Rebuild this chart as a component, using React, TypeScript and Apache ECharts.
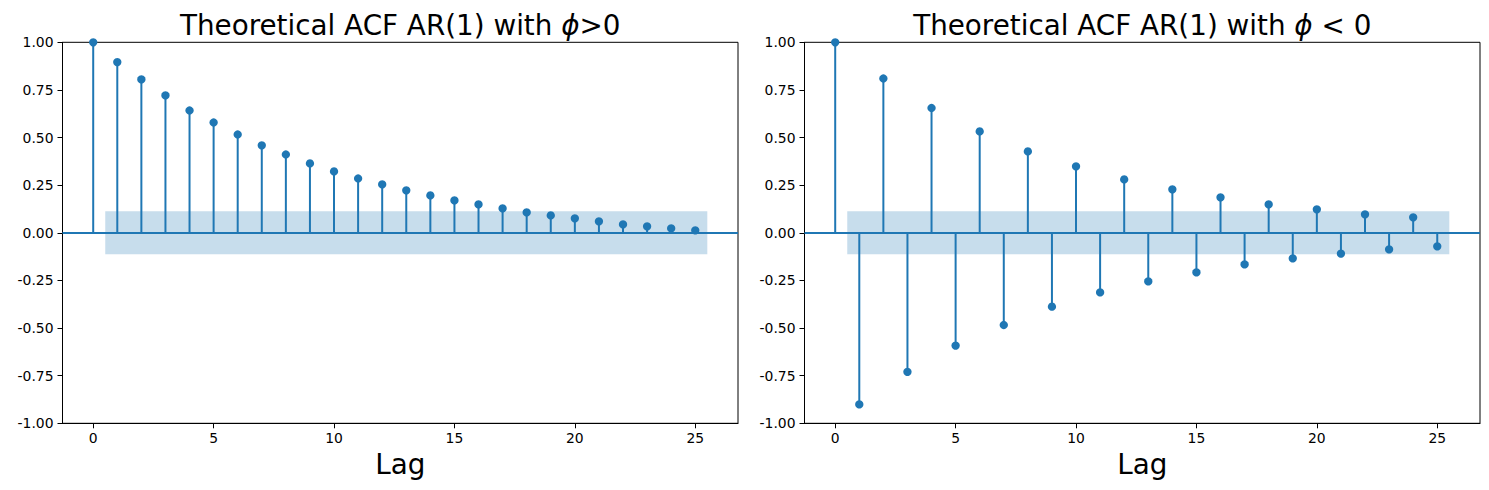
import React, { useEffect, useRef } from "react";
import * as echarts from "echarts";

const lags = [0, 1, 2, 3, 4, 5, 6, 7, 8, 9, 10, 11, 12, 13, 14, 15, 16, 17, 18, 19, 20, 21, 22, 23, 24, 25];
const acfPositive = [
  1.0, 0.896, 0.805, 0.721, 0.642, 0.579, 0.516, 0.459, 0.411, 0.364, 0.322, 0.285, 0.254,
  0.223, 0.196, 0.17, 0.149, 0.128, 0.107, 0.091, 0.076, 0.06, 0.044, 0.034, 0.023, 0.013,
];
const acfNegative = [
  1.0, -0.901, 0.81, -0.73, 0.655, -0.592, 0.532, -0.484, 0.427, -0.388, 0.349, -0.313, 0.28,
  -0.255, 0.228, -0.208, 0.186, -0.166, 0.149, -0.134, 0.123, -0.109, 0.097, -0.087, 0.081, -0.071,
];
const confBand = 0.113;
const bandStart = 0.5;
const bandEnd = 25.5;
const xTicks = [0, 5, 10, 15, 20, 25];
const titleParts = [
  ["Theoretical ACF AR(1) with ", "ϕ", ">0"],
  ["Theoretical ACF AR(1) with ", "ϕ", " < 0"],
];
const xLabel = "Lag";

const BLUE = "#1f77b4";
const FONT = "DejaVu Sans";

export default function App() {
  const ref = useRef<HTMLDivElement>(null);
  useEffect(() => {
    if (!ref.current) return;
    const chart = echarts.init(ref.current, null, { renderer: "svg" });
    const gridLefts = [62.5, 804.5];
    const gridW = 675.5;
    const datasets = [acfPositive, acfNegative];

    const grids = gridLefts.map((l) => ({
      left: l,
      top: 42.3,
      width: gridW,
      height: 381,
      show: true,
      borderColor: "#000",
      borderWidth: 1,
      backgroundColor: "transparent",
    }));

    const xAxes = gridLefts.map((_, i) => ({
      type: "value",
      gridIndex: i,
      min: -1.275,
      max: 26.775,
      splitLine: { show: false },
      axisLine: { show: true, onZero: false, lineStyle: { color: "#000", width: 1 } },
      axisTick: { show: true, customValues: xTicks, length: 5, lineStyle: { color: "#000", width: 1 } },
      axisLabel: {
        customValues: xTicks,
        margin: 8,
        fontSize: 13.9,
        fontFamily: FONT,
        color: "#000",
      },
      name: xLabel,
      nameLocation: "middle",
      nameGap: 27,
      nameTextStyle: { fontSize: 27.8, fontFamily: FONT, color: "#000" },
    }));

    const yAxes = gridLefts.map((_, i) => ({
      type: "value",
      gridIndex: i,
      min: -1,
      max: 1,
      interval: 0.25,
      splitLine: { show: false },
      axisLine: { show: true, onZero: false, lineStyle: { color: "#000", width: 1 } },
      axisTick: { show: true, length: 5, lineStyle: { color: "#000", width: 1 } },
      axisLabel: {
        margin: 9,
        fontSize: 13.9,
        fontFamily: FONT,
        color: "#000",
        formatter: (v: number) => v.toFixed(2),
      },
    }));

    const series: any[] = [];
    datasets.forEach((acf, i) => {
      const data = lags.map((l, k) => [l, acf[k]]);
      series.push({
        type: "custom",
        xAxisIndex: i,
        yAxisIndex: i,
        data,
        silent: true,
        z: 2,
        renderItem: (params: any, api: any) => {
          const p0 = api.coord([api.value(0), 0]);
          const p1 = api.coord([api.value(0), api.value(1)]);
          return {
            type: "line",
            shape: { x1: p0[0], y1: p0[1], x2: p1[0], y2: p1[1] },
            style: { stroke: BLUE, lineWidth: 2 },
          };
        },
      });
      series.push({
        type: "scatter",
        xAxisIndex: i,
        yAxisIndex: i,
        data,
        symbol: "circle",
        symbolSize: 8.3,
        itemStyle: { color: BLUE, opacity: 1 },
        clip: true,
        silent: true,
        z: 3,
        markLine: {
          silent: true,
          symbol: ["none", "none"],
          label: { show: false },
          lineStyle: { color: BLUE, width: 2, type: "solid" },
          emphasis: { disabled: true },
          data: [{ yAxis: 0 }],
        },
        markArea: {
          silent: true,
          itemStyle: { color: "rgba(31,119,180,0.25)" },
          emphasis: { disabled: true },
          data: [[{ xAxis: bandStart, yAxis: -confBand }, { xAxis: bandEnd, yAxis: confBand }]],
        },
      });
    });

    const titles = titleParts.map((parts, i) => ({
      text: `{n|${parts[0]}}{i|${parts[1]}}{n|${parts[2]}}`,
      left: gridLefts[i] + gridW / 2,
      textAlign: "center",
      top: 11,
      padding: 0,
      textStyle: {
        fontWeight: "normal",
        rich: {
          n: { fontSize: 27.8, fontFamily: FONT, fontWeight: "normal", color: "#000" },
          i: { fontSize: 27.8, fontFamily: FONT, fontWeight: "normal", fontStyle: "italic", color: "#000" },
        },
      },
    }));

    chart.setOption({
      animation: false,
      backgroundColor: "#fff",
      title: titles,
      grid: grids,
      xAxis: xAxes,
      yAxis: yAxes,
      series,
    });
    return () => chart.dispose();
  }, []);
  return (
    <div
      ref={ref}
      style={{ position: "fixed", left: 0, top: 0, width: 1489, height: 490 }}
    />
  );
}
